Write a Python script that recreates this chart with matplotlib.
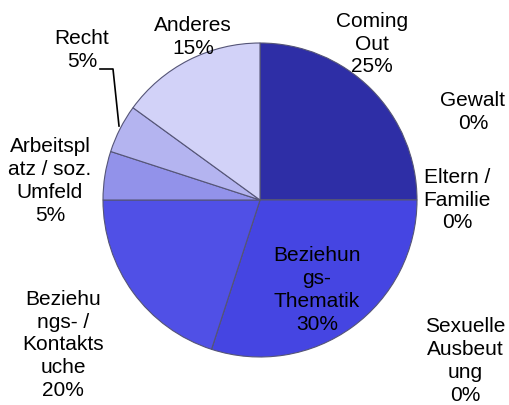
import matplotlib
matplotlib.use("Agg")
import matplotlib.pyplot as plt

categories = ["Coming\nOut", "Gewalt", "Eltern /\nFamilie", "Beziehun\ngs-\nThematik",
              "Sexuelle\nAusbeut\nung", "Beziehu\nngs- /\nKontakts\nuche",
              "Arbeitspl\natz / soz.\nUmfeld", "Recht", "Anderes"]
values = [25, 0, 0, 30, 0, 20, 5, 5, 15]

colors = ["#2e2ea6", "#3a3ac0", "#3e3ed0", "#4545e2", "#4a4ae4", "#5050e6",
          "#9292ea", "#b4b4f0", "#d2d2f8"]

# label centres in pixel coords (x, y from top)
label_pos = [(372, 44), (473, 112), (457, 200), (317, 290), (465, 361),
             (63, 345), (50, 181), (82, 50), (193, 37)]

W, H = 509, 405
fig = plt.figure(figsize=(W / 100, H / 100), dpi=100)
ax = fig.add_axes([0, 0, 1, 1])
ax.set_xlim(0, W)
ax.set_ylim(0, H)
ax.axis("off")

wedges, _ = ax.pie(values, colors=colors, startangle=90, counterclock=False,
                   center=(260, H - 200), radius=157,
                   wedgeprops=dict(edgecolor="#555577", linewidth=0.8))
ax.set_xlim(0, W)
ax.set_ylim(0, H)
ax.set_aspect("equal")

for cat, val, (px, py) in zip(categories, values, label_pos):
    ax.text(px, H - py, f"{cat}\n{val}%", ha="center", va="center",
            fontsize=15, family="Liberation Sans", linespacing=1.25)

# leader line for "Recht"
ax.plot([100, 113, 119], [H - 69, H - 69, H - 126], color="black", lw=1.2)

fig.savefig("out.png", dpi=100)
